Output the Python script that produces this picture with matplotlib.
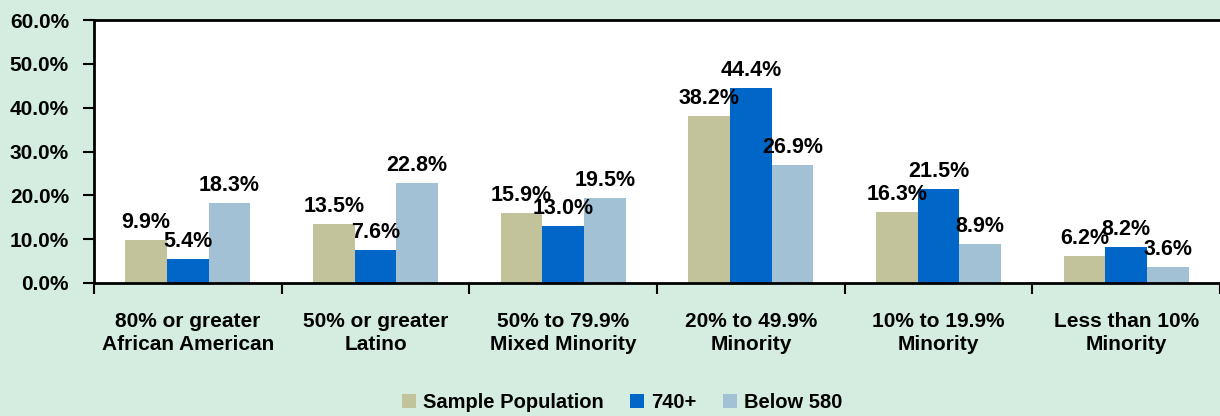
import matplotlib.pyplot as plt
import numpy as np
from matplotlib.patches import Patch

plt.rcParams['font.family'] = ['Liberation Sans', 'DejaVu Sans']
plt.rcParams['font.weight'] = 'bold'

categories = [
    "80% or greater\nAfrican American",
    "50% or greater\nLatino",
    "50% to 79.9%\nMixed Minority",
    "20% to 49.9%\nMinority",
    "10% to 19.9%\nMinority",
    "Less than 10%\nMinority",
]
series_names = ["Sample Population", "740+", "Below 580"]
sample_pop = [9.9, 13.5, 15.9, 38.2, 16.3, 6.2]
score_740 = [5.4, 7.6, 13.0, 44.4, 21.5, 8.2]
below_580 = [18.3, 22.8, 19.5, 26.9, 8.9, 3.6]
y_ticks = [0, 10, 20, 30, 40, 50, 60]

colors = ["#c2c39b", "#0066c8", "#a3c1d5"]
bg = "#d4ede0"

fig = plt.figure(figsize=(12.2, 4.16), dpi=100, facecolor=bg)
ax = fig.add_axes([94 / 1220, 1 - 283 / 416, 1 - 94 / 1220, 263 / 416])
ax.set_facecolor("white")

x = np.arange(len(categories))
w = 0.222
for i, (vals, c) in enumerate(zip([sample_pop, score_740, below_580], colors)):
    xs = x + (i - 1) * w
    ax.bar(xs, vals, width=w, color=c, zorder=2)
    for xx, v in zip(xs, vals):
        ax.annotate(f"{v:.1f}%", (xx, v), xytext=(0, 5), textcoords="offset points",
                    ha="center", va="bottom", fontsize=15.5, fontweight="bold", zorder=3)

ax.set_xlim(-0.5, len(categories) - 0.5)
ax.set_ylim(0, 60)
ax.set_yticks(y_ticks)
ax.set_yticklabels([f"{t:.1f}%" for t in y_ticks], fontsize=15, fontweight="bold")
ax.set_xticks(x)
ax.set_xticklabels(categories, fontsize=15, fontweight="bold", linespacing=1.25)
ax.tick_params(axis="x", length=0, pad=21)
ax.set_xticks(np.arange(len(categories) + 1) - 0.5, minor=True)
ax.tick_params(axis="x", which="minor", length=8, width=1.5, direction="out")
ax.tick_params(axis="y", length=8, width=1.5, direction="out", pad=10)

for s in ["left", "top", "bottom"]:
    ax.spines[s].set_linewidth(2)
ax.spines["right"].set_visible(False)

handles = [Patch(facecolor=c, edgecolor="none") for c in colors]
fig.legend(handles, series_names, loc="upper center", bbox_to_anchor=(0.51, 0.085),
           ncol=3, frameon=False, handlelength=0.7, handleheight=0.7,
           handletextpad=0.35, columnspacing=1.3, borderpad=0.1,
           prop={"weight": "bold", "size": 14.5})

fig.savefig("out.png", dpi=100, facecolor=bg)
